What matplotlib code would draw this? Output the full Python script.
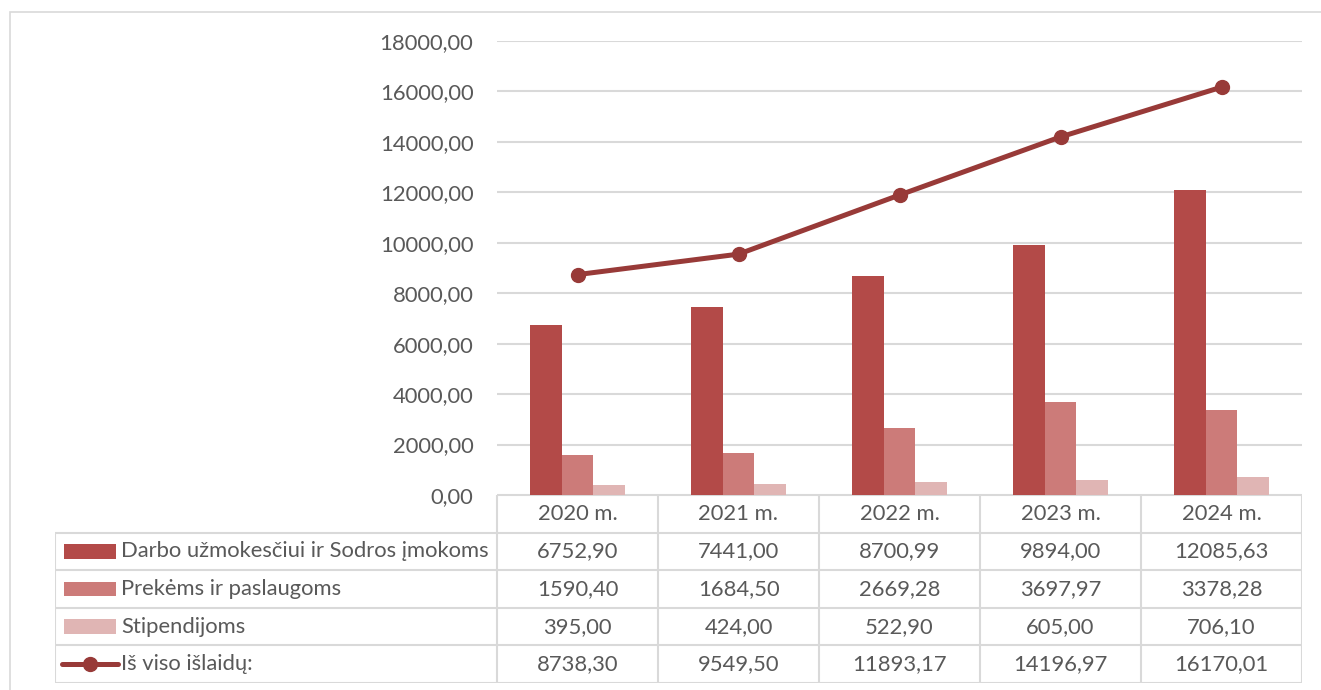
import matplotlib.pyplot as plt
from matplotlib.patches import Rectangle
from matplotlib.ticker import FuncFormatter

plt.rcParams['font.family'] = ['Lato', 'DejaVu Sans']

# Duomenys
years = ['2020 m.', '2021 m.', '2022 m.', '2023 m.', '2024 m.']
darbo = [6752.90, 7441.00, 8700.99, 9894.00, 12085.63]
prekes = [1590.40, 1684.50, 2669.28, 3697.97, 3378.28]
stipendijos = [395.00, 424.00, 522.90, 605.00, 706.10]
is_viso = [8738.30, 9549.50, 11893.17, 14196.97, 16170.01]
series_names = ['Darbo užmokesčiui ir Sodros įmokoms', 'Prekėms ir paslaugoms',
                'Stipendijoms', 'Iš viso išlaidų:']

c_darbo = '#B34A48'
c_prekes = '#CC7B79'
c_stip = '#E0B5B4'
c_line = '#983A38'
txt = '#595959'
grid = '#D9D9D9'
fs = 15.8

W, H = 1321, 690
fig = plt.figure(figsize=(W / 100, H / 100), dpi=100)

def fx(px):
    return px / W

def fy(py):
    return 1 - py / H

# outer chart border
fig.patches.append(Rectangle((fx(10), fy(700)), fx(1330) - fx(10), fy(12) - fy(700),
                             transform=fig.transFigure, fill=False, ec=grid, lw=1.2))

# main plot area
L, R, T, B = 497, 1302, 41, 495
ax = fig.add_axes([fx(L), fy(B), fx(R) - fx(L), fy(T) - fy(B)])
x = list(range(len(years)))
w = 0.195
ax.bar([i - w for i in x], darbo, w, color=c_darbo, zorder=2)
ax.bar(x, prekes, w, color=c_prekes, zorder=2)
ax.bar([i + w for i in x], stipendijos, w, color=c_stip, zorder=2)
ax.plot(x, is_viso, color=c_line, lw=3.6, marker='o', ms=10, zorder=3)

ax.set_xlim(-0.5, 4.5)
ax.set_ylim(0, 18000)
ax.set_yticks(range(0, 18001, 2000))
ax.yaxis.set_major_formatter(FuncFormatter(lambda v, p: f'{v:.2f}'.replace('.', ',')))
ax.tick_params(axis='y', length=0, pad=17, labelsize=fs, labelcolor=txt)
ax.set_xticks([])
ax.grid(axis='y', color=grid, lw=1.5, zorder=0)
for s in ax.spines.values():
    s.set_visible(False)

# data table
TL, TB = 55, 683
tax = fig.add_axes([fx(TL), fy(TB), fx(R) - fx(TL), fy(B) - fy(TB)])
unit = (R - L) / 5.0
left_x = -0.5 - (L - TL) / unit
tax.set_xlim(left_x, 4.5)
tax.set_ylim(5, 0)
tax.axis('off')
lk = dict(color=grid, lw=1.5, solid_capstyle='butt')
# horizontal lines
tax.plot([-0.5, 4.5], [0, 0], **lk)
for r in range(1, 6):
    tax.plot([left_x, 4.5], [r, r], **lk)
# vertical lines
for c in range(6):
    tax.plot([c - 0.5, c - 0.5], [0, 5], **lk)
tax.plot([left_x, left_x], [1, 5], **lk)

for i, yr in enumerate(years):
    tax.text(i, 0.5, yr, ha='center', va='center', fontsize=fs, color=txt)

rows = [darbo, prekes, stipendijos, is_viso]
for r, vals in enumerate(rows):
    for i, v in enumerate(vals):
        tax.text(i, r + 1.5, f'{v:.2f}'.replace('.', ','), ha='center', va='center',
                 fontsize=fs, color=txt)

# legend keys in the table
key_x0 = left_x + (64 - TL) / unit
key_x1 = left_x + (116 - TL) / unit
text_x = left_x + (121 - TL) / unit
for r, col in enumerate([c_darbo, c_prekes, c_stip]):
    tax.add_patch(Rectangle((key_x0, r + 1.5 - 0.19), key_x1 - key_x0, 0.38,
                            color=col, lw=0))
lx0 = left_x + (62 - TL) / unit
lx1 = left_x + (118 - TL) / unit
tax.plot([lx0, lx1], [4.5, 4.5], color=c_line, lw=3.6, solid_capstyle='round')
tax.plot([(lx0 + lx1) / 2], [4.5], marker='o', ms=10, color=c_line)
for r, name in enumerate(series_names):
    tax.text(text_x, r + 1.5, name, ha='left', va='center', fontsize=fs, color=txt)

fig.savefig('out.png', dpi=100)
